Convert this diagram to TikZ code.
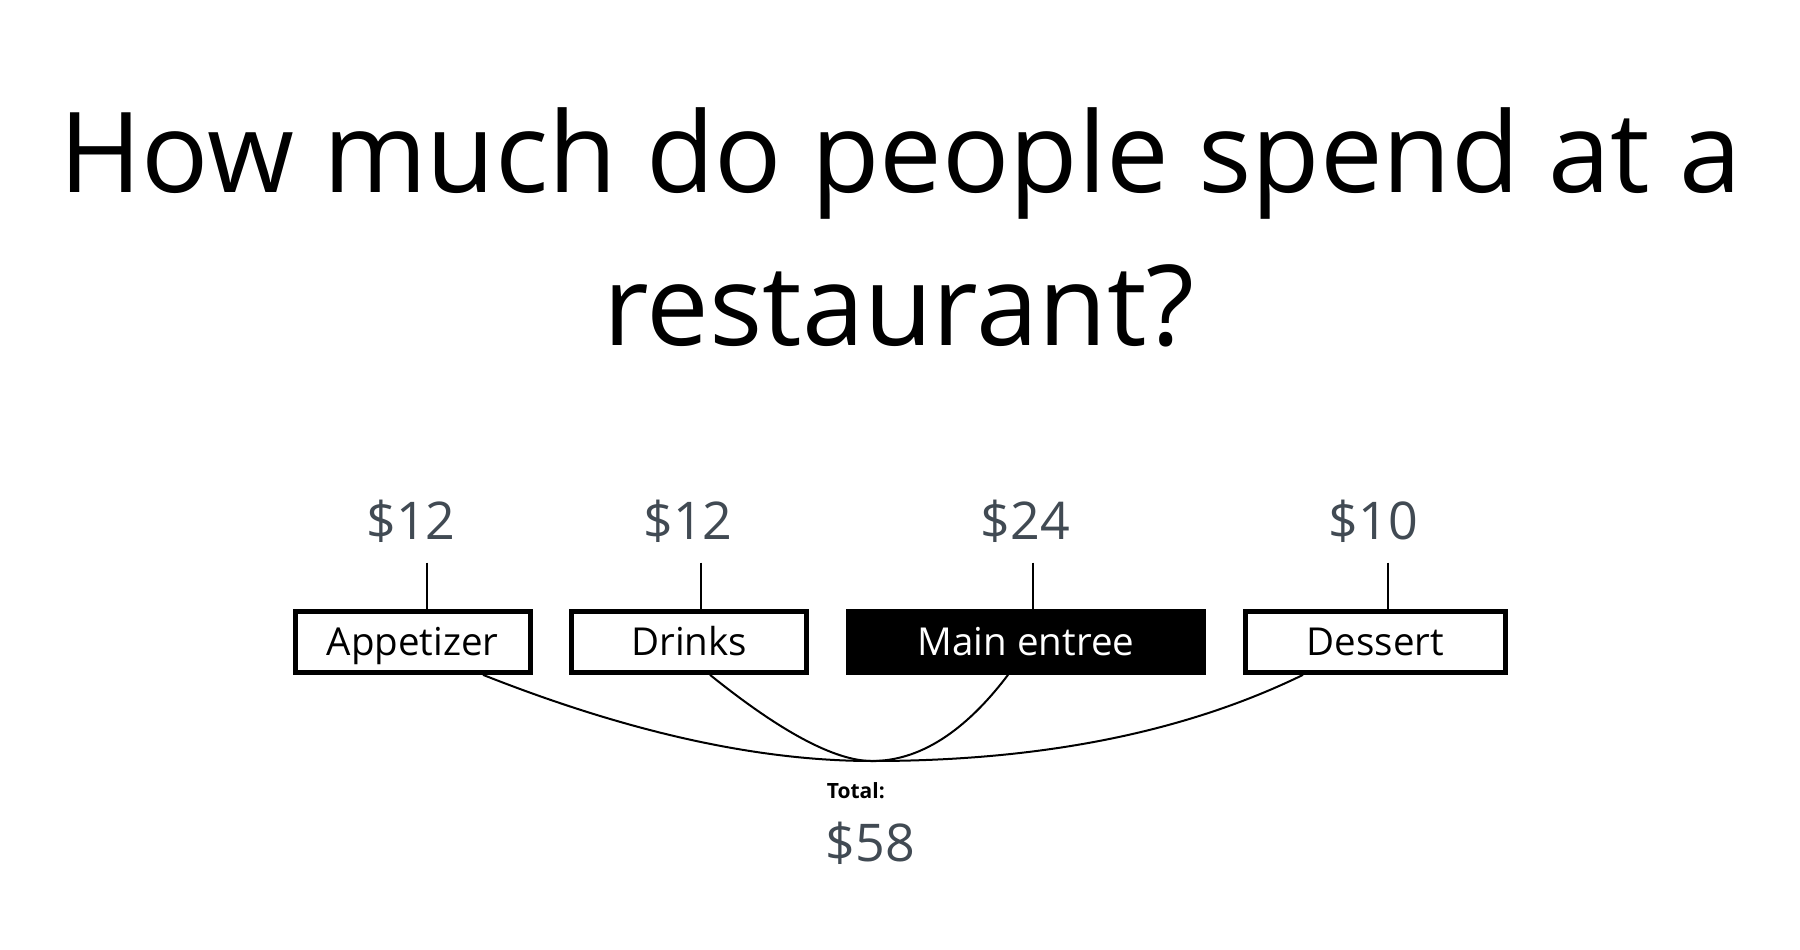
\documentclass[tikz,border=0pt]{standalone}
\usepackage{fontspec}
\setmainfont{Open Sans}
\usetikzlibrary{calc}
\definecolor{pricegray}{HTML}{414A53}
\begin{document}
\begin{tikzpicture}[x=1pt,y=-1pt,
  titletext/.style={anchor=base,inner sep=0,font=\fontsize{111.7}{130}\selectfont},
  price/.style={anchor=base,inner sep=0,text=pricegray,font=\fontsize{52}{60}\selectfont},
  itembox/.style={draw=black,line width=5pt,fill=white,minimum height=60.7pt,inner sep=0,
    text height=27.5pt,text depth=0pt,font=\fontsize{38.5}{46}\selectfont},
  mainbox/.style={itembox,fill=black,text=white},
  tick/.style={line width=2pt},
  link/.style={line width=2pt}]
\useasboundingbox (0,0) rectangle (1800,950);
\fill[white] (0,0) rectangle (1800,950);

% title
\node[titletext] (t1) at (900.4,192.3) {How much do people spend at a};
\node[titletext] (t2) at (899,345) {restaurant?};

% prices
\node[price] (p1) at (411,539.3) {\$12};
\node[price] (p2) at (688,539.3) {\$12};
\node[price] (p3) at (1025.3,539.3) {\$24};
\node[price] (p4) at (1373.5,539.3) {\$10};

% boxes
\node[itembox,minimum width=235.4pt] (app) at (412.7,642) {Appetizer};
\node[itembox,minimum width=235pt] (drk) at (689.3,642) {Drinks};
\node[mainbox,minimum width=355.7pt] (mainb) at (1026,642) {Main entree};
\node[itembox,minimum width=259.7pt] (des) at (1375.4,642) {Dessert};

% ticks
\coordinate (k1) at (427,562.7);
\coordinate (k2) at (700.7,562.7);
\coordinate (k3) at (1033,562.7);
\coordinate (k4) at (1388,562.7);
\draw[tick] (k1) -- (k1 |- app.north);
\draw[tick] (k2) -- (k2 |- drk.north);
\draw[tick] (k3) -- (k3 |- mainb.north);
\draw[tick] (k4) -- (k4 |- des.north);

% junction and links
\coordinate (j) at (872,761);
\draw[link] ([xshift=70.3pt]app.south) .. controls (628.2,732.3) and (757.9,761) .. (j);
\draw[link] ([xshift=20.7pt]drk.south) .. controls (781.3,732.3) and (835.3,761) .. (j);
\draw[link] ([xshift=-18pt]mainb.south) .. controls (964.5,732.3) and (919.1,761) .. (j);
\draw[link] ([xshift=-72.4pt]des.south) .. controls (1185.2,732.3) and (1041.5,761) .. (j);

% total
\node[anchor=base west,inner sep=0,font=\fontsize{21}{25}\selectfont\bfseries] (tl) at (826.7,798.5) {Total:};
\node[price] (tot) at (870.5,861) {\$58};
\end{tikzpicture}
\end{document}
